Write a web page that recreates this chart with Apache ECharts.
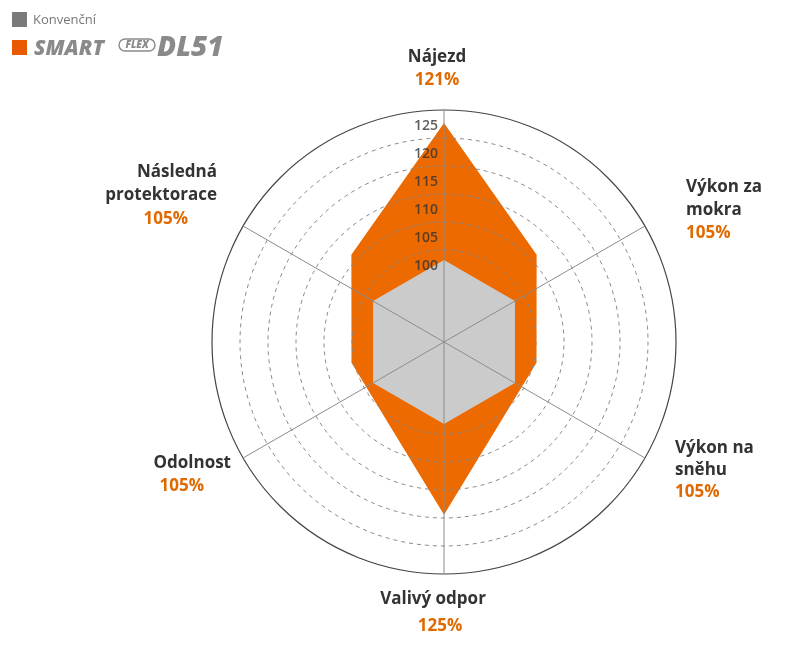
<!DOCTYPE html>
<html><head><meta charset="utf-8">
<script src="https://cdn.jsdelivr.net/npm/echarts@6/dist/echarts.min.js"></script>
<style>html,body{margin:0;background:#fff}#c{width:800px;height:645px}</style>
</head><body><div id="c"></div>
<script>
// data
const categories = ['Nájezd','Výkon za mokra','Výkon na sněhu','Valivý odpor','Odolnost','Následná protektorace'];
const labelsPct = ['121%','105%','105%','125%','105%','105%'];
const grayValues = [98.2,98.2,98.2,98.2,98.2,98.2];
const grayAngles = [0,60,120,180,240,300];
const orangeValues = [122.7,106.3,100.5,114.4,100.5,106.3];
const orangeAngles = [0,46.7,102.6,180,257.4,313.3];
const ringValues = [100,105,110,115,120];
const tickLabels = [100,105,110,115,120,125];
const rMin = 83.57, rMax = 125;

const close = (vals, angs) => { const d = vals.map((v,i)=>[v,angs[i]]); d.push([vals[0],360]); return d; };
const circle = v => { const d=[]; for(let a=0;a<=360;a+=2) d.push([v,a]); return d; };
const FONT = '"Open Sans", "Noto Sans", sans-serif';
const ORANGE = '#EC6A00', TXT = '#333', OTXT = '#E06A00';

const series = [];
series.push({type:'line',coordinateSystem:'polar',data:close(orangeValues,orangeAngles),symbol:'none',
  lineStyle:{width:0},areaStyle:{color:ORANGE,opacity:1},z:2,silent:true});
ringValues.forEach(v=>series.push({type:'line',coordinateSystem:'polar',data:circle(v),symbol:'none',
  lineStyle:{color:'#8a8a8a',width:1,type:[4,4]},z:3,silent:true}));
series.push({type:'line',coordinateSystem:'polar',data:close(grayValues,grayAngles),symbol:'none',
  lineStyle:{width:0},areaStyle:{color:'#cbcbcb',opacity:1},z:4,silent:true});
grayAngles.forEach(a=>series.push({type:'line',coordinateSystem:'polar',data:[[rMin,a],[rMax,a]],symbol:'none',
  lineStyle:{color:'#8c8c8c',width:1},z:5,silent:true}));
series.push({type:'scatter',coordinateSystem:'polar',data:tickLabels.map(v=>[v,0]),symbolSize:0,z:6,
  label:{show:true,position:'left',distance:6,offset:[0,16],formatter:p=>p.value[0],color:TXT,fontSize:14,fontWeight:600,fontFamily:FONT}});

const txt = (x,y,t,color,align,size,weight) => ({type:'text',x,y,style:{text:t,fill:color,align:align||'center',verticalAlign:'middle',font:`${weight||700} ${size||17}px ${FONT}`}});
const graphic = [
  {type:'rect',shape:{x:12,y:12,width:15,height:15},style:{fill:'#7a7a7a'}},
  txt(33,20,'Konvenční','#777','left',13,400),
  {type:'rect',shape:{x:12,y:40,width:15,height:15},style:{fill:'#E85A00'}},
  {type:'text',x:34,y:49,style:{text:'SMART',fill:'#8a8a8a',align:'left',verticalAlign:'middle',font:`italic 800 21px ${FONT}`}},
  {type:'rect',shape:{x:119,y:39,width:36,height:12,r:6},style:{fill:'#fff',stroke:'#8a8a8a',lineWidth:1.4}},
  {type:'text',x:137,y:45,style:{text:'FLEX',fill:'#8a8a8a',align:'center',verticalAlign:'middle',font:`italic 800 10px ${FONT}`}},
  {type:'text',x:157,y:48,style:{text:'DL51',fill:'#8a8a8a',align:'left',verticalAlign:'middle',font:`italic 800 28px ${FONT}`}},
  txt(437,57,'Nájezd',TXT), txt(437,80,'121%',OTXT),
  txt(686,187,'Výkon za',TXT,'left'), txt(686,210,'mokra',TXT,'left'), txt(686,233,'105%',OTXT,'left'),
  txt(675,448,'Výkon na',TXT,'left'), txt(675,470,'sněhu',TXT,'left'), txt(675,492,'105%',OTXT,'left'),
  txt(433,599,'Valivý odpor',TXT), txt(440,626,'125%',OTXT),
  txt(231,463,'Odolnost',TXT,'right'), txt(204,486,'105%',OTXT,'right'),
  txt(217,172,'Následná',TXT,'right'), txt(217,195,'protektorace',TXT,'right'), txt(188,219,'105%',OTXT,'right')
];

const chart = echarts.init(document.getElementById('c'));
chart.setOption({
  animation:false,
  polar:{center:[444,342],radius:232},
  angleAxis:{type:'value',min:0,max:360,interval:60,startAngle:90,clockwise:true,
    axisLine:{show:true,lineStyle:{color:'#444',width:1.2}},axisTick:{show:false},axisLabel:{show:false},splitLine:{show:false}},
  radiusAxis:{type:'value',min:rMin,max:rMax,axisLine:{show:false},axisTick:{show:false},axisLabel:{show:false},splitLine:{show:false}},
  series, graphic
});
</script></body></html>
